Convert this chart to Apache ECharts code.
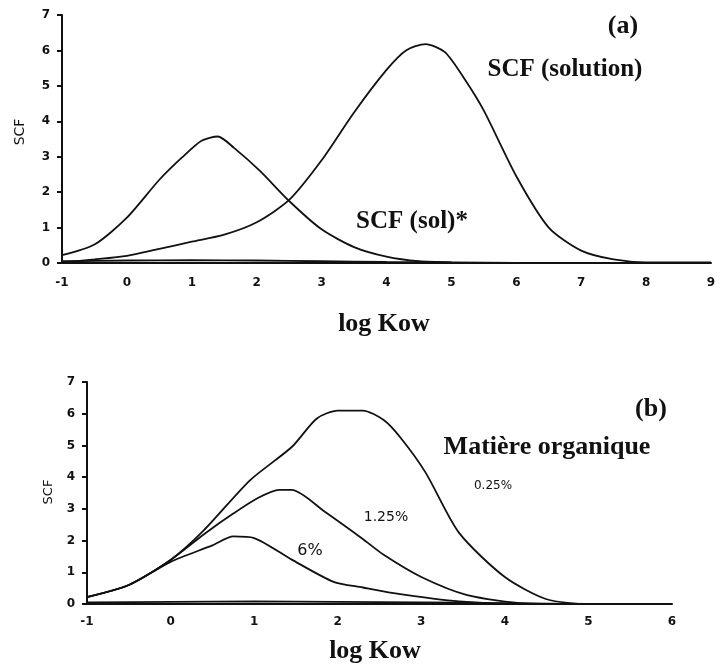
<!DOCTYPE html>
<html>
<head>
<meta charset="utf-8">
<script src="https://cdn.jsdelivr.net/npm/echarts@6/dist/echarts.min.js"></script>
<style>html,body{margin:0;padding:0;background:#fff;}#c{width:721px;height:666px;}</style>
</head>
<body>
<div id="c"></div>
<script>
// Panel (a)
const aXTicks = [-1, 0, 1, 2, 3, 4, 5, 6, 7, 8, 9];
const aSolStarX = [-1, -0.5, 0, 0.5, 0.85, 1.15, 1.4, 1.65, 2.05, 2.5, 3.0, 3.5, 4.0, 4.5, 5.0];
const aSolStarY = [0.22, 0.52, 1.28, 2.35, 2.98, 3.45, 3.57, 3.25, 2.6, 1.75, 0.95, 0.45, 0.18, 0.05, 0.02];
const aSolutionX = [-1, -0.5, 0, 0.5, 1, 1.5, 2, 2.5, 3, 3.5, 4, 4.3, 4.6, 4.9, 5.2, 5.5, 6, 6.5, 7, 7.5, 8, 9];
const aSolutionY = [0.02, 0.1, 0.2, 0.4, 0.6, 0.8, 1.15, 1.78, 2.9, 4.25, 5.45, 6.0, 6.18, 5.95, 5.2, 4.3, 2.45, 1.0, 0.35, 0.1, 0.02, 0.02];
const aFlatX = [-1, 0, 1, 2, 3, 4, 5, 6, 9];
const aFlatY = [0.05, 0.07, 0.08, 0.07, 0.05, 0.03, 0.02, 0.0, 0.0];

// Panel (b)
const bOM025X = [-1, -0.5, 0, 0.4, 0.95, 1.45, 1.75, 2.0, 2.3, 2.55, 2.75, 3.05, 3.45, 4.0, 4.5, 5, 6];
const bOM025Y = [0.22, 0.6, 1.39, 2.33, 3.9, 4.95, 5.85, 6.1, 6.1, 5.8, 5.25, 4.15, 2.25, 0.85, 0.15, 0, 0];
const bOM125X = [-1, -0.5, 0, 0.4, 0.75, 1.05, 1.3, 1.45, 1.85, 2.3, 2.55, 3.0, 3.55, 4.25, 5];
const bOM125Y = [0.22, 0.6, 1.39, 2.2, 2.85, 3.35, 3.6, 3.6, 2.9, 2.05, 1.55, 0.85, 0.28, 0.02, 0];
const bOM6X = [-1, -0.5, 0, 0.5, 0.75, 1.0, 1.45, 1.95, 2.3, 2.65, 3.45, 4.25, 5];
const bOM6Y = [0.22, 0.6, 1.33, 1.85, 2.13, 2.08, 1.4, 0.7, 0.52, 0.35, 0.08, 0, 0];
const bFlatX = [-1, 0, 1, 2, 3, 4, 5, 6];
const bFlatY = [0.05, 0.07, 0.08, 0.07, 0.05, 0.03, 0.0, 0.0];

const pair = (xs, ys) => xs.map((x, i) => [x, ys[i]]);

const chart = echarts.init(document.getElementById('c'));
const axisLabelStyle = { color: '#111', fontFamily: 'DejaVu Sans', fontWeight: 'bold', fontSize: 12 };
const lineSeries = (xi, data) => ({
  type: 'line', xAxisIndex: xi, yAxisIndex: xi, data: data, smooth: 0.25,
  showSymbol: false, lineStyle: { color: '#111', width: 1.8 }, silent: true
});
const serif = { fontFamily: 'Liberation Serif', fontWeight: 'bold', fill: '#111' };
const txt = (x, y, text, size, extra) => ({
  type: 'text', x: x, y: y,
  style: Object.assign({ text: text, fontSize: size, textAlign: 'center', textVerticalAlign: 'middle' }, serif, extra || {})
});
const hand = { fontFamily: 'DejaVu Sans', fontWeight: 'normal' };

chart.setOption({
  backgroundColor: '#fff',
  animation: false,
  grid: [
    { left: 62, right: 10, top: 15, bottom: 403 },
    { left: 87, right: 49, top: 382, bottom: 62 }
  ],
  xAxis: [
    { type: 'value', gridIndex: 0, min: -1, max: 9, interval: 1,
      axisLine: { onZero: false, lineStyle: { color: '#111', width: 2 } }, axisTick: { show: false },
      splitLine: { show: false }, axisLabel: Object.assign({ margin: 14 }, axisLabelStyle) },
    { type: 'value', gridIndex: 1, min: -1, max: 6, interval: 1,
      axisLine: { onZero: false, lineStyle: { color: '#111', width: 2 } }, axisTick: { show: false },
      splitLine: { show: false }, axisLabel: Object.assign({ margin: 12 }, axisLabelStyle) }
  ],
  yAxis: [
    { type: 'value', gridIndex: 0, min: 0, max: 7, interval: 1,
      axisLine: { show: true, onZero: false, lineStyle: { color: '#111', width: 2 } },
      axisTick: { show: true, length: 5, lineStyle: { color: '#111', width: 2 } },
      splitLine: { show: false }, axisLabel: Object.assign({ margin: 12 }, axisLabelStyle) },
    { type: 'value', gridIndex: 1, min: 0, max: 7, interval: 1,
      axisLine: { show: true, onZero: false, lineStyle: { color: '#111', width: 2 } },
      axisTick: { show: true, length: 5, lineStyle: { color: '#111', width: 2 } },
      splitLine: { show: false }, axisLabel: Object.assign({ margin: 12 }, axisLabelStyle) }
  ],
  series: [
    lineSeries(0, pair(aSolStarX, aSolStarY)),
    lineSeries(0, pair(aSolutionX, aSolutionY)),
    lineSeries(0, pair(aFlatX, aFlatY)),
    lineSeries(1, pair(bOM025X, bOM025Y)),
    lineSeries(1, pair(bOM125X, bOM125Y)),
    lineSeries(1, pair(bOM6X, bOM6Y)),
    lineSeries(1, pair(bFlatX, bFlatY))
  ],
  graphic: [
    txt(623, 26, '(a)', 26),
    txt(565, 70, 'SCF (solution)', 25),
    txt(412, 222, 'SCF (sol)*', 25),
    txt(384, 324, 'log Kow', 26),
    txt(651, 409, '(b)', 26),
    txt(547, 447, 'Matière organique', 26),
    txt(375, 651, 'log Kow', 26),
    txt(493, 486, '0.25%', 12, hand),
    txt(386, 517, '1.25%', 14, hand),
    txt(310, 551, '6%', 16, hand),
    { type: 'text', x: 20, y: 132, rotation: Math.PI / 2,
      style: { text: 'SCF', fontSize: 14, fontFamily: 'DejaVu Sans', fill: '#111', textAlign: 'center', textVerticalAlign: 'middle' } },
    { type: 'text', x: 49, y: 492, rotation: Math.PI / 2,
      style: { text: 'SCF', fontSize: 13, fontFamily: 'DejaVu Sans', fill: '#111', textAlign: 'center', textVerticalAlign: 'middle' } }
  ]
});
</script>
</body>
</html>
